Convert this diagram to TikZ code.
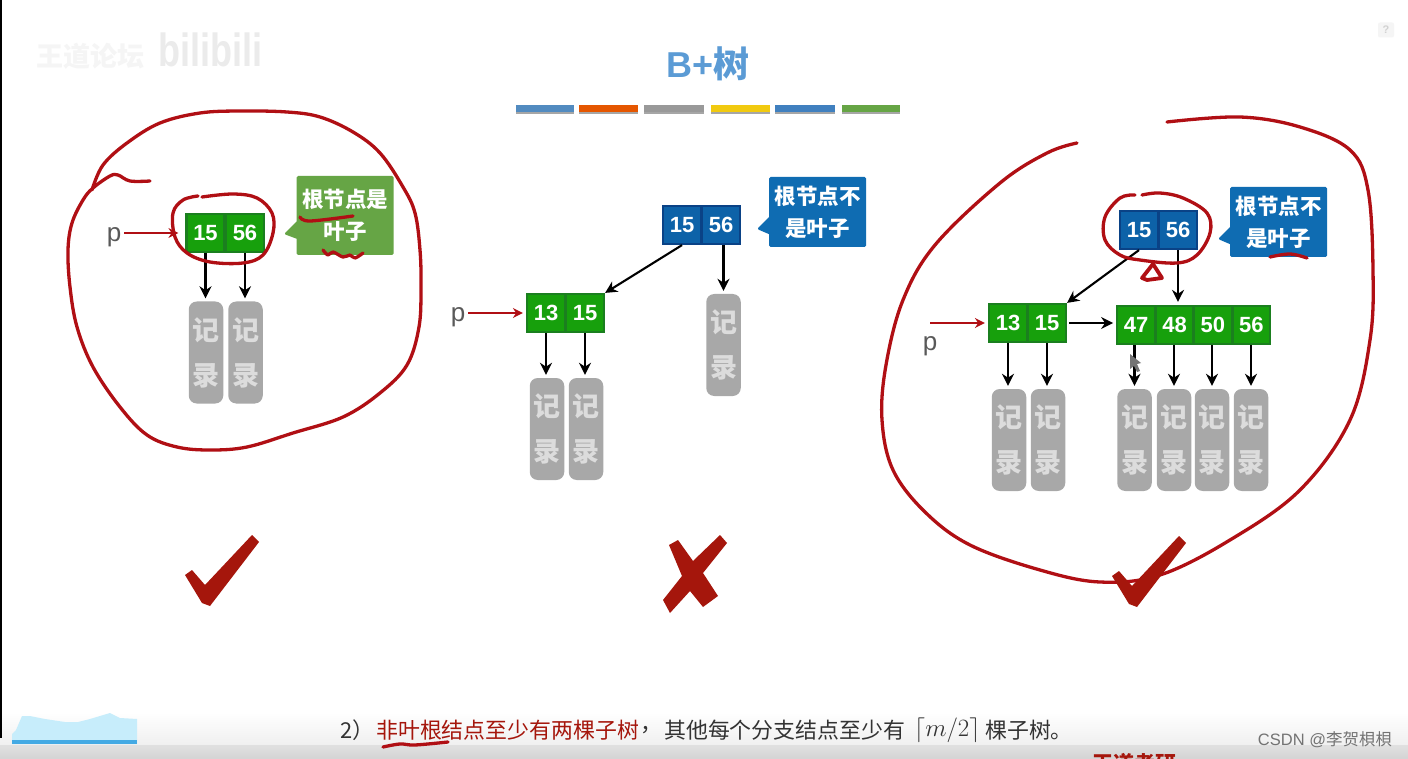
\documentclass[tikz,border=0pt]{standalone}
\usepackage{fontspec}
\usepackage{amsmath}
\usetikzlibrary{arrows.meta,shapes.callouts}
\setmainfont{Liberation Sans}
\newfontfamily\cjk{Noto Sans CJK SC}
\definecolor{inkred}{HTML}{B00F14}
\definecolor{markred}{HTML}{A5160C}
\definecolor{cellgreen}{HTML}{17A00C}
\definecolor{edgegreen}{HTML}{1B7F1F}
\definecolor{cellblue}{HTML}{0D62A8}
\definecolor{edgeblue}{HTML}{0A4286}
\definecolor{tipgreen}{HTML}{66A545}
\definecolor{tipblue}{HTML}{0F6CB2}
\definecolor{recgray}{HTML}{A8A8A8}
\definecolor{textgray}{HTML}{333333}
\definecolor{titleblue}{HTML}{5B9BD5}
\tikzset{
  greencell/.style={draw=edgegreen,line width=2.2pt,fill=cellgreen,text=white,minimum width=38pt,minimum height=38pt,inner sep=0pt,font=\bfseries\fontsize{22}{22}\selectfont},
  bluecell/.style={greencell,draw=edgeblue,fill=cellblue},
  recbox/.style={fill=recgray,rounded corners=8pt,text=recgray!40!white,minimum width=34.5pt,minimum height=102pt,inner sep=0pt,align=center,font=\cjk\bfseries\fontsize{27}{45}\selectfont},
  tipbox/.style={rectangle callout,rounded corners=1.5pt,text=white,minimum width=97pt,minimum height=70pt,inner sep=0pt,align=center,callout pointer width=17pt,font=\cjk\bfseries\fontsize{21.5}{32}\selectfont},
  blackarrow/.style={line width=2.1pt,-{Stealth[length=12pt,width=12pt]}},
  redarrow/.style={inkred,line width=2pt,-{Stealth[length=10pt,width=10pt]}},
  ink/.style={draw=inkred,line width=3.3pt,line cap=round,line join=round},
  bottomtext/.style={anchor=west,inner sep=0pt,font=\cjk\fontsize{21.9}{22}\selectfont},
  pmark/.style={text=black!65,inner sep=0pt,font=\fontsize{26}{26}\selectfont}
}
\begin{document}
\begin{tikzpicture}[x=1pt,y=-1pt]
\useasboundingbox (0,0) rectangle (1408,759);
\fill[white] (0,0) rectangle (1408,759);
\shade[top color=white,bottom color=black!6] (0,712) rectangle (1408,745);
\shade[top color=black!12,bottom color=black!17] (0,745) rectangle (1408,759);
\fill[black] (0,0) rectangle (2,738);

\node[text=black!4,font=\cjk\bfseries\fontsize{27}{27}\selectfont] (logo) at (90,56) {王道论坛};
\node[text=black!8,font=\bfseries\fontsize{30}{30}\selectfont] (bili) at (210,50) {\scalebox{1.2}[1.55]{bilibili}};
\node[fill=black!4,rounded corners=2pt,minimum width=16pt,minimum height=15pt,inner sep=0pt,text=black!18,font=\bfseries\fontsize{11}{11}\selectfont] (help) at (1386,30) {?};

\node[text=titleblue,font=\bfseries\fontsize{36}{36}\selectfont] (title) at (708,64) {B+{\cjk 树}};
\fill[black!35] (516,109) rectangle (574,114);
\fill[black!35] (579,109) rectangle (638,114);
\fill[black!35] (644,109) rectangle (704,114);
\fill[black!35] (711,109) rectangle (770,114);
\fill[black!35] (775,109) rectangle (835,114);
\fill[black!35] (842,109) rectangle (900,114);
\fill[titleblue!90!black] (516,105) rectangle (574,112);
\fill[orange!75!red!90!black] (579,105) rectangle (638,112);
\fill[black!40] (644,105) rectangle (704,112);
\fill[yellow!70!orange!95!black] (711,105) rectangle (770,112);
\fill[blue!50!cyan!50!gray] (775,105) rectangle (835,112);
\fill[tipgreen] (842,105) rectangle (900,112);

% left tree
\node[greencell] (la) at (205.5,233) {15};
\node[greencell] (lb) at (245,233) {56};
\node[recbox] (lra) at (206,352.5) {记\\录};
\node[recbox] (lrb) at (245.5,352.5) {记\\录};
\node[pmark] (lp) at (114,237) {p};
\node[tipbox,fill=tipgreen,minimum height=79pt,callout absolute pointer={(284,234)}] (ltip) at (345,215.5) {根节点是\\叶子};
\draw[blackarrow,shorten >=3pt] (la.south) -- (la.south |- lra.north);
\draw[blackarrow,shorten >=3pt] (lb.south) -- (lb.south |- lrb.north);
\draw[redarrow,shorten <=3pt,shorten >=7pt] (lp.east |- la.west) -- (la.west);

% middle tree
\node[bluecell] (ma) at (682,225) {15};
\node[bluecell] (mb) at (721,225) {56};
\node[greencell] (mc) at (546,313) {13};
\node[greencell] (md) at (585,313) {15};
\node[recbox] (mra) at (547,429) {记\\录};
\node[recbox] (mrb) at (586,429) {记\\录};
\node[recbox] (mrc) at (723.5,345) {记\\录};
\node[pmark] (mp) at (458,317) {p};
\node[tipbox,fill=tipblue,callout absolute pointer={(757,229)}] (mtip) at (817.5,212) {根节点不\\是叶子};
\draw[blackarrow] (ma.south) -- (md.north east);
\draw[blackarrow,shorten >=3pt] (mb.south -| mrc.north) -- (mrc.north);
\draw[blackarrow,shorten >=3pt] (mc.south) -- (mc.south |- mra.north);
\draw[blackarrow,shorten >=3pt] (md.south) -- (md.south |- mrb.north);
\draw[redarrow,shorten <=3pt,shorten >=3pt] (mp.east |- mc.west) -- (mc.west);

% right tree
\node[bluecell] (ra) at (1139,230) {15};
\node[bluecell] (rb) at (1178,230) {56};
\node[greencell] (rc) at (1008,323) {13};
\node[greencell] (rd) at (1047,323) {15};
\node[greencell,minimum width=37.6pt] (re) at (1136,325) {47};
\node[greencell,minimum width=37.6pt] (rf) at (1174.5,325) {48};
\node[greencell,minimum width=37.6pt] (rg) at (1212.9,325) {50};
\node[greencell,minimum width=37.6pt] (rh) at (1251.3,325) {56};
\node[recbox] (rra) at (1009,440) {记\\录};
\node[recbox] (rrb) at (1048,440) {记\\录};
\node[recbox] (rrc) at (1134.5,440) {记\\录};
\node[recbox] (rrd) at (1174,440) {记\\录};
\node[recbox] (rre) at (1212,440) {记\\录};
\node[recbox] (rrf) at (1251,440) {记\\录};
\node[pmark] (rp) at (930,346) {p};
\coordinate (rpstart) at (930,323);
\node[tipbox,fill=tipblue,callout absolute pointer={(1218,239)}] (rtip) at (1278.5,222) {根节点不\\是叶子};
\draw[blackarrow] (ra.south) -- (rd.north east);
\draw[blackarrow,shorten >=3pt] (rb.south) -- (rb.south |- re.north);
\draw[blackarrow,shorten <=2pt,shorten >=3pt] (rd.east) -- (rd.east -| re.west);
\draw[blackarrow,shorten >=3pt] (rc.south) -- (rc.south |- rra.north);
\draw[blackarrow,shorten >=3pt] (rd.south) -- (rd.south |- rrb.north);
\draw[blackarrow,shorten >=3pt] (re.south -| rrc.north) -- (rrc.north);
\draw[blackarrow,shorten >=3pt] (rf.south -| rrd.north) -- (rrd.north);
\draw[blackarrow,shorten >=3pt] (rg.south -| rre.north) -- (rre.north);
\draw[blackarrow,shorten >=3pt] (rh.south -| rrf.north) -- (rrf.north);
\draw[redarrow,shorten >=3pt] (rpstart) -- (rc.west);
\fill[black!55] (1130,354) -- (1130,369) -- (1134,366) -- (1137,372) -- (1140,371) -- (1137,364) -- (1141,363) -- cycle;

% red ink
\draw[ink] plot[smooth,tension=0.6] coordinates {(92,190) (103,165) (127,143) (160,123) (200,113) (240,111) (287,112) (320,117) (353,132) (380,153) (403,187) (415,213) (420,250) (421,287) (419,327) (407,365) (380,393) (343,417) (293,433) (247,447) (210,450) (177,447) (147,435) (120,407) (93,367) (77,327) (70,287) (68,250) (72,223) (83,200) (93,188) (110,176) (118,175) (130,181) (150,181)};
\draw[ink] plot[smooth,tension=0.6] coordinates {(198,196) (183,200) (173,213) (175,237) (187,253) (210,262) (243,263) (263,255) (273,233) (272,213) (257,198) (233,194) (202,197)};
\draw[ink] plot[smooth,tension=0.6] coordinates {(300,217) (310,221) (353,216)};
\draw[ink] plot[smooth,tension=0.6] coordinates {(323,250) (328,255) (333,252) (343,257) (350,255) (355,258) (363,253)};
\draw[ink] plot[smooth,tension=0.6] coordinates {(1077,143) (1047,153) (1000,183) (935,245) (903,300) (886,365) (882,420) (893,470) (925,512) (970,545) (1040,570) (1100,582) (1160,575) (1230,540) (1300,490) (1350,420) (1370,340) (1373,270) (1368,190) (1350,150) (1300,127) (1240,117) (1167,122)};
\draw[ink] plot[smooth,tension=0.6] coordinates {(1135,195) (1120,198) (1105,217) (1105,240) (1120,255) (1140,260) (1177,263) (1197,255) (1210,233) (1207,213) (1183,198) (1160,193) (1142,195)};
\draw[ink,line width=3.8pt] (1142,278) -- (1153,264) -- (1162,278) -- (1147,280) -- cycle;
\draw[ink] plot[smooth,tension=0.6] coordinates {(1270,257) (1290,254) (1307,258)};

% marks
\fill[markred] (185,575) -- (192,570) -- (205,585) -- (252,535) -- (259,542) -- (210,606) -- (202,603) -- cycle;
\fill[markred] (669,545) -- (678,540) -- (693,561) -- (720,535) -- (727,543) -- (703,573) -- (718,596) -- (703,607) -- (690,591) -- (670,613) -- (663,600) -- (682,576) -- cycle;
\fill[markred,shift={(927,1)}] (185,575) -- (192,570) -- (205,585) -- (252,535) -- (259,542) -- (210,606) -- (202,603) -- cycle;

% bottom line
\node[bottomtext,text=textgray] (rulenum) at (340,730) {2）};
\node[bottomtext,text=markred] (rulered) at (376,730) {非叶根结点至少有两棵子树};
\node[bottomtext,text=textgray] (comma) at (640,730) {，};
\node[bottomtext,text=textgray] (rulea) at (664,730) {其他每个分支结点至少有};
\node[bottomtext,text=textgray,font=\fontsize{25}{25}\selectfont] (ceil) at (914,730) {$\lceil m/2\rceil$};
\node[bottomtext,text=textgray] (ruleb) at (985,730) {棵子树。};
\draw[ink] plot[smooth,tension=0.6] coordinates {(383,747) (400,744) (415,745) (448,742)};
\fill[cyan!22!white] (12,744) -- (12,734) -- (16,730) -- (22,716) -- (30,716) -- (45,719) -- (65,722) -- (78,722) -- (90,719) -- (100,716) -- (110,713) -- (120,718) -- (137,719) -- (137,744) -- cycle;
\fill[cyan!80!blue!75!white] (12,740) rectangle (137,744);

\node[text=black!55,inner sep=0pt,font=\fontsize{16.5}{16.5}\selectfont] (csdn) at (1325,740) {CSDN @{\cjk 李贺梖梖}};
\begin{scope}
\clip (0,0) rectangle (1408,759);
\node[text=markred,inner sep=0pt,anchor=north west,font=\cjk\bfseries\fontsize{21}{21}\selectfont] (source) at (1092,753) {王道考研};
\end{scope}
\end{tikzpicture}
\end{document}
